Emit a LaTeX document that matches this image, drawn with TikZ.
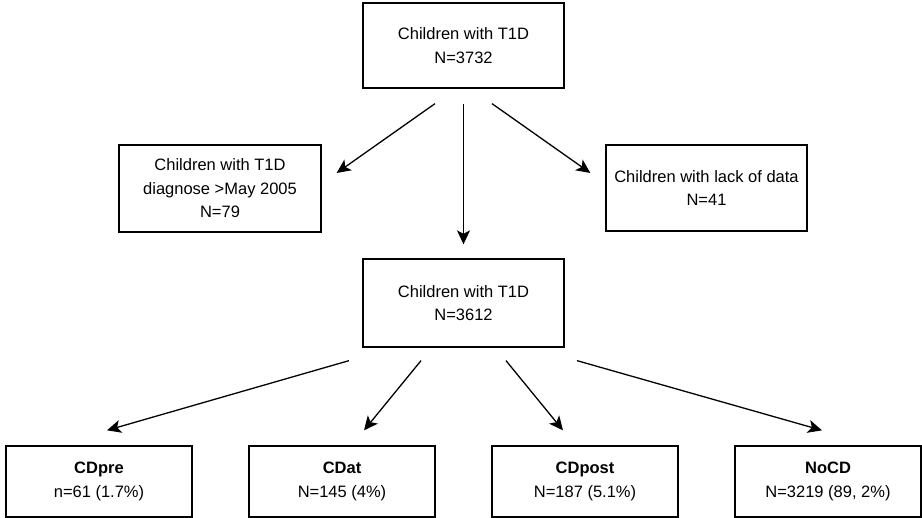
\documentclass[tikz,border=0pt]{standalone}
\usepackage{fontspec}
\setmainfont{Liberation Sans}
\usetikzlibrary{arrows.meta,calc}
\begin{document}
\begin{tikzpicture}[x=1pt,y=1pt,
  box/.style={draw=black,line width=1.3pt,fill=white,inner sep=0pt,align=center,
    font=\fontsize{16.5}{23.5}\selectfont},
  conn/.style={line width=1.3pt,-{Stealth[length=14pt,width=13pt,inset=3.5pt]}}]
\useasboundingbox (0,0) rectangle (922,518);
% y' = 518 - y(pixel)
\node[box,minimum width=201pt,minimum height=85pt] (top) at (463.5,472.5) {Children with T1D\\N=3732};
\node[box,minimum width=202pt,minimum height=87pt] (left) at (220,329.5) {Children with T1D\\diagnose >May 2005\\N=79};
\node[box,minimum width=201pt,minimum height=86pt] (right) at (706.5,330) {Children with lack of data\\N=41};
\node[box,minimum width=201pt,minimum height=88pt] (mid) at (463.5,215) {Children with T1D\\N=3612};
\node[box,minimum width=186pt,minimum height=71pt] (cdpre) at (99,36.5) {\textbf{CDpre}\\n=61 (1.7\%)};
\node[box,minimum width=186pt,minimum height=71pt] (cdat) at (342,36.5) {\textbf{CDat}\\N=145 (4\%)};
\node[box,minimum width=186pt,minimum height=71pt] (cdpost) at (585,36.5) {\textbf{CDpost}\\N=187 (5.1\%)};
\node[box,minimum width=186pt,minimum height=71pt] (nocd) at (828,36.5) {\textbf{NoCD}\\N=3219 (89, 2\%)};
\draw[conn] ($(top.south)+(-28.5,-15)$) -- ($(left.east)+(15,15.5)$);
\draw[conn] ($(top.south)+(0,-15)$) -- ($(mid.north)+(0,14)$);
\draw[conn] ($(top.south)+(28.5,-15)$) -- ($(right.west)+(-15,15)$);
\draw[conn] ($(mid.south)+(-114.5,-13)$) -- ($(cdpre.north)+(8,15)$);
\draw[conn] ($(mid.south)+(-42.5,-13)$) -- ($(cdat.north)+(22,15)$);
\draw[conn] ($(mid.south)+(42.5,-13)$) -- ($(cdpost.north)+(-22,15)$);
\draw[conn] ($(mid.south)+(113.5,-13)$) -- ($(nocd.north)+(-6,15)$);
\end{tikzpicture}
\end{document}
